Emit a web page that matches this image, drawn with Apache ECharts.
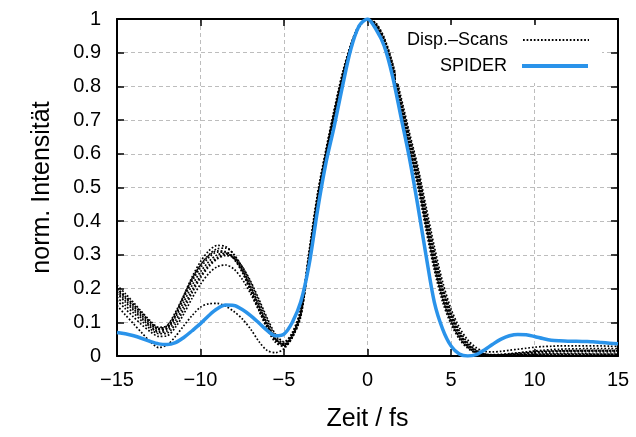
<!DOCTYPE html>
<html>
<head>
<meta charset="utf-8">
<script src="https://cdn.jsdelivr.net/npm/echarts@6/dist/echarts.min.js"></script>
<style>html,body{margin:0;padding:0;background:#fff;}#c{width:636px;height:437px;}</style>
</head>
<body>
<div id="c"></div>
<script>
// time axis (fs)
var times = [-15,-14.5,-14,-13.5,-13,-12.5,-12,-11.5,-11,-10.5,-10,-9.5,-9,-8.5,-8,-7.5,-7,-6.5,-6,-5.5,-5,-4.5,-4,-3.5,-3,-2.5,-2,-1.5,-1,-0.5,0,0.5,1,1.5,2,2.5,3,3.5,4,4.5,5,5.5,6,6.5,7,7.5,8,8.5,9,9.5,10,10.5,11,11.5,12,12.5,13,13.5,14,14.5,15];

// Dispersion scans
var scanA = [0.19,0.165,0.14,0.115,0.09,0.073,0.08,0.115,0.16,0.21,0.25,0.28,0.3,0.305,0.29,0.255,0.205,0.15,0.095,0.05,0.035,0.065,0.13,0.3,0.47,0.6,0.72,0.83,0.92,0.98,1.0,0.98,0.93,0.85,0.74,0.63,0.53,0.4,0.28,0.18,0.11,0.06,0.03,0.012,0.004,0.002,0.002,0.003,0.004,0.005,0.006,0.006,0.007,0.007,0.007,0.007,0.007,0.006,0.006,0.006,0.006];
var scanB = [0.2,0.175,0.15,0.125,0.1,0.082,0.09,0.13,0.18,0.23,0.27,0.298,0.312,0.31,0.29,0.25,0.195,0.14,0.087,0.045,0.03,0.058,0.12,0.285,0.455,0.59,0.71,0.82,0.915,0.978,1.0,0.985,0.94,0.865,0.76,0.655,0.555,0.43,0.31,0.205,0.13,0.075,0.04,0.018,0.007,0.003,0.003,0.004,0.006,0.008,0.01,0.011,0.012,0.013,0.013,0.013,0.013,0.013,0.012,0.012,0.012];
var scanC = [0.175,0.15,0.127,0.103,0.08,0.066,0.068,0.095,0.138,0.188,0.232,0.265,0.288,0.298,0.292,0.265,0.222,0.168,0.112,0.064,0.042,0.07,0.14,0.31,0.48,0.61,0.73,0.84,0.925,0.982,1.0,0.975,0.92,0.84,0.725,0.61,0.505,0.375,0.255,0.16,0.095,0.05,0.023,0.008,0.002,0.001,0.001,0.001,0.002,0.002,0.003,0.003,0.003,0.003,0.003,0.003,0.003,0.003,0.003,0.003,0.003];
var scanD = [0.21,0.185,0.158,0.13,0.104,0.085,0.09,0.125,0.18,0.235,0.28,0.312,0.328,0.325,0.3,0.255,0.195,0.135,0.08,0.04,0.028,0.055,0.115,0.28,0.45,0.585,0.705,0.815,0.91,0.975,1.0,0.988,0.945,0.87,0.77,0.665,0.565,0.445,0.325,0.22,0.14,0.085,0.048,0.025,0.014,0.012,0.014,0.017,0.02,0.023,0.026,0.028,0.029,0.03,0.03,0.03,0.03,0.03,0.03,0.029,0.029];
var scanE = [0.165,0.14,0.115,0.092,0.072,0.058,0.06,0.085,0.125,0.172,0.213,0.245,0.265,0.27,0.258,0.228,0.185,0.135,0.088,0.05,0.032,0.06,0.125,0.295,0.465,0.6,0.72,0.83,0.92,0.98,1.0,0.978,0.925,0.845,0.735,0.62,0.52,0.39,0.27,0.172,0.104,0.056,0.027,0.01,0.003,0.002,0.003,0.005,0.007,0.009,0.011,0.013,0.014,0.015,0.016,0.016,0.017,0.017,0.017,0.017,0.017];
var scanF = [0.15,0.122,0.095,0.068,0.042,0.025,0.033,0.058,0.09,0.12,0.145,0.155,0.156,0.148,0.132,0.11,0.08,0.043,0.016,0.01,0.022,0.055,0.125,0.29,0.46,0.595,0.715,0.825,0.918,0.98,1.0,0.982,0.935,0.857,0.75,0.64,0.54,0.41,0.29,0.19,0.117,0.065,0.033,0.014,0.005,0.003,0.004,0.006,0.009,0.012,0.015,0.017,0.019,0.02,0.021,0.021,0.022,0.022,0.022,0.022,0.022];
var scanG = [0.195,0.172,0.146,0.12,0.095,0.078,0.083,0.12,0.172,0.222,0.262,0.292,0.308,0.308,0.288,0.248,0.195,0.14,0.088,0.047,0.033,0.062,0.127,0.295,0.463,0.596,0.717,0.827,0.918,0.979,1.0,0.982,0.936,0.858,0.752,0.643,0.543,0.415,0.295,0.193,0.12,0.067,0.034,0.014,0.005,0.002,0.002,0.002,0.003,0.004,0.005,0.005,0.005,0.005,0.005,0.005,0.005,0.005,0.005,0.005,0.005];
var scanH = [0.185,0.16,0.135,0.11,0.086,0.07,0.074,0.105,0.148,0.196,0.238,0.27,0.292,0.302,0.295,0.265,0.218,0.162,0.106,0.058,0.038,0.066,0.133,0.305,0.475,0.605,0.725,0.835,0.922,0.981,1.0,0.977,0.925,0.845,0.732,0.62,0.518,0.388,0.267,0.17,0.102,0.054,0.026,0.009,0.002,0.001,0.001,0.002,0.003,0.004,0.004,0.005,0.005,0.005,0.005,0.005,0.005,0.005,0.005,0.005,0.005];
var scanI = [0.2,0.178,0.153,0.127,0.1,0.08,0.085,0.122,0.175,0.228,0.27,0.3,0.318,0.32,0.302,0.262,0.207,0.15,0.095,0.05,0.033,0.06,0.122,0.29,0.46,0.593,0.713,0.823,0.917,0.979,1.0,0.984,0.94,0.862,0.757,0.65,0.55,0.422,0.302,0.2,0.125,0.07,0.036,0.016,0.006,0.004,0.005,0.007,0.009,0.011,0.013,0.014,0.015,0.015,0.015,0.015,0.015,0.015,0.015,0.015,0.015];

// SPIDER reconstruction
var spider = [0.07,0.066,0.06,0.052,0.043,0.036,0.034,0.04,0.055,0.075,0.096,0.12,0.14,0.151,0.15,0.138,0.12,0.098,0.075,0.06,0.065,0.1,0.16,0.27,0.43,0.57,0.68,0.8,0.91,0.98,1.0,0.97,0.92,0.83,0.71,0.59,0.45,0.3,0.16,0.08,0.03,0.006,0.0,0.004,0.018,0.035,0.05,0.06,0.064,0.063,0.058,0.052,0.047,0.045,0.044,0.044,0.043,0.042,0.04,0.038,0.036];

var xTicks = [-15,-10,-5,0,5,10,15];
var yTicks = [0,0.1,0.2,0.3,0.4,0.5,0.6,0.7,0.8,0.9,1];

var scans = [scanA, scanB, scanC, scanD, scanE, scanF, scanG, scanH, scanI];
function pairs(v){ return times.map(function(t,i){ return [t, v[i]]; }); }

var FONT = 'Liberation Sans, Arial, Helvetica, sans-serif';
var series = scans.map(function(s){
  return {
    name: 'Disp.\u2013Scans', type: 'line', data: pairs(s), smooth: 0.3,
    showSymbol: false, symbol: 'none', silent: true,
    lineStyle: { color: '#000', width: 1.7, type: [1.7, 1.9] },
    itemStyle: { color: '#000' }, z: 2
  };
});
series.push({
  name: 'SPIDER', type: 'line', data: pairs(spider), smooth: 0.3,
  showSymbol: false, symbol: 'none',
  lineStyle: { color: '#2a93ea', width: 3.5 }, itemStyle: { color: '#2a93ea' }, z: 3
});

var axisLineStyle = { show: true, onZero: false, lineStyle: { color: '#000', width: 2 } };
var tickStyle = { show: true, inside: true, length: 7, lineStyle: { color: '#000', width: 1.5 } };
var legendBase = {
  orient: 'vertical', right: 34, align: 'right',
  itemWidth: 66, itemHeight: 12,
  backgroundColor: '#fff',
  itemStyle: { opacity: 0 },
  textStyle: { fontSize: 18, color: '#000', fontFamily: FONT, padding: [0, 10, 0, 0] }
};
var chart = echarts.init(document.getElementById('c'), null, { renderer: 'canvas' });
chart.setOption({
  animation: false,
  backgroundColor: '#fff',
  textStyle: { fontFamily: FONT },
  grid: { left: 117, right: 18, top: 19, bottom: 78, containLabel: false },
  legend: [
    Object.assign({}, legendBase, {
      data: ['Disp.\u2013Scans'], top: 25, padding: [6, 12, 3, 8]
    }),
    Object.assign({}, legendBase, {
      data: ['SPIDER'], top: 52, padding: [5, 12, 8, 44],
      lineStyle: { width: 4 }
    })
  ],
  xAxis: [
    {
      type: 'value', min: -15, max: 15, interval: 5, position: 'bottom',
      axisLine: axisLineStyle, axisTick: tickStyle,
      splitLine: { show: true, lineStyle: { color: '#bdbdbd', width: 1, type: [4, 3] } },
      axisLabel: { fontSize: 20, color: '#000', margin: 14, fontFamily: FONT,
        formatter: function(v){ return xTicks.indexOf(v) >= 0 ? String(v).replace('-', '\u2212') : ''; } },
      name: 'Zeit / fs', nameLocation: 'middle', nameGap: 51,
      nameTextStyle: { fontSize: 25, color: '#000', fontFamily: FONT }
    },
    {
      type: 'value', min: -15, max: 15, interval: 5, position: 'top',
      axisLine: axisLineStyle, axisTick: tickStyle, axisLabel: { show: false }, splitLine: { show: false }
    }
  ],
  yAxis: [
    {
      type: 'value', min: 0, max: 1, interval: 0.1, position: 'left',
      axisLine: axisLineStyle, axisTick: tickStyle,
      splitLine: { show: true, lineStyle: { color: '#bdbdbd', width: 1, type: [4, 3] } },
      axisLabel: { fontSize: 20, color: '#000', margin: 16, fontFamily: FONT,
        formatter: function(v){ var r = Math.round(v*10)/10; return yTicks.indexOf(r) >= 0 ? String(r) : ''; } },
      name: 'norm. Intensit\u00e4t', nameLocation: 'middle', nameGap: 62, nameRotate: 90,
      nameTextStyle: { fontSize: 25, color: '#000', fontFamily: FONT }
    },
    {
      type: 'value', min: 0, max: 1, interval: 0.1, position: 'right',
      axisLine: axisLineStyle, axisTick: tickStyle, axisLabel: { show: false }, splitLine: { show: false }
    }
  ],
  series: series
});
</script>
</body>
</html>
